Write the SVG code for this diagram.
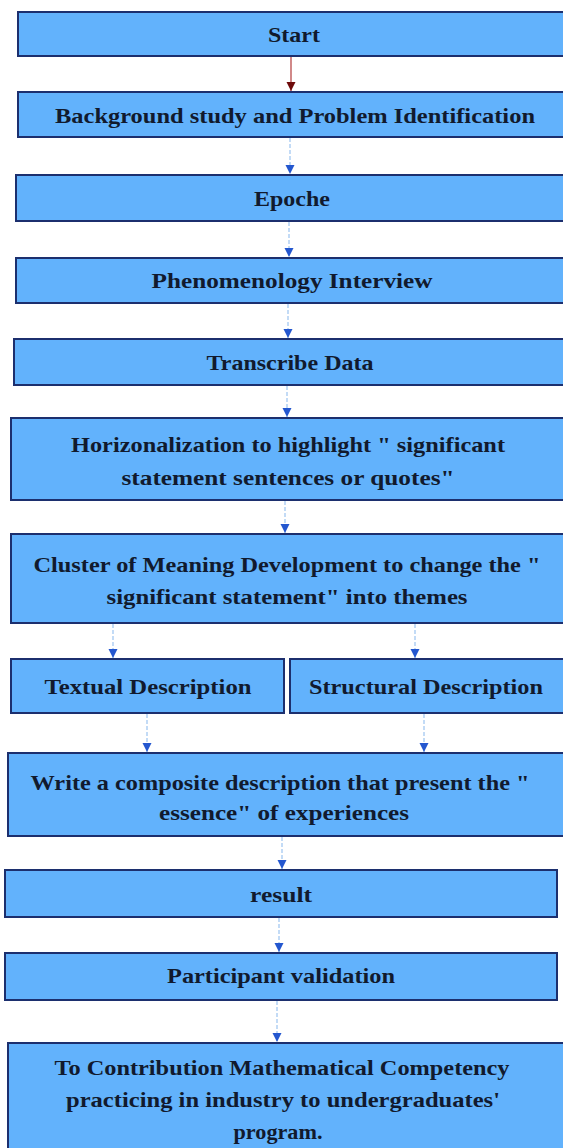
<svg xmlns="http://www.w3.org/2000/svg" width="563" height="1148" viewBox="0 0 563 1148">
  <style>
    .box { fill: #62B2FC; stroke: #1C2F6E; stroke-width: 2; }
    .lbl { font-family: "Liberation Serif", "DejaVu Serif", serif; font-weight: bold; font-size: 21px; fill: #111a2e; text-anchor: middle; }
    .link { stroke: #9CC4F0; stroke-width: 1.2; fill: none; stroke-dasharray: 4 2; }
    .link-red { stroke: #B23A3A; stroke-width: 1.2; fill: none; }
  </style>
  <defs>
    <!-- small filled triangles at the end of each connector -->
    <marker id="head" viewBox="0 0 10 10" refX="10" refY="5" markerWidth="9" markerHeight="10" markerUnits="userSpaceOnUse" orient="auto">
      <path d="M0,0 L10,5 L0,10 Z" fill="#2457CF"/>
    </marker>
    <marker id="head-red" viewBox="0 0 10 10" refX="10" refY="5" markerWidth="9" markerHeight="10" markerUnits="userSpaceOnUse" orient="auto">
      <path d="M0,0 L10,5 L0,10 Z" fill="#6E0A0A"/>
    </marker>
  </defs>

  <!-- connectors -->
  <g id="connectors">
    <line class="link-red" x1="291" y1="57" x2="291" y2="91" marker-end="url(#head-red)"/>
    <line class="link" x1="290" y1="138" x2="290" y2="174" marker-end="url(#head)"/>
    <line class="link" x1="289" y1="222" x2="289" y2="257" marker-end="url(#head)"/>
    <line class="link" x1="288" y1="304" x2="288" y2="338" marker-end="url(#head)"/>
    <line class="link" x1="287" y1="386" x2="287" y2="417" marker-end="url(#head)"/>
    <line class="link" x1="285" y1="501" x2="285" y2="533" marker-end="url(#head)"/>
    <line class="link" x1="113" y1="624" x2="113" y2="658" marker-end="url(#head)"/>
    <line class="link" x1="415" y1="624" x2="415" y2="658" marker-end="url(#head)"/>
    <line class="link" x1="147" y1="714" x2="147" y2="752" marker-end="url(#head)"/>
    <line class="link" x1="424" y1="714" x2="424" y2="752" marker-end="url(#head)"/>
    <line class="link" x1="282" y1="837" x2="282" y2="869" marker-end="url(#head)"/>
    <line class="link" x1="279" y1="918" x2="279" y2="952" marker-end="url(#head)"/>
    <line class="link" x1="277" y1="1001" x2="277" y2="1042" marker-end="url(#head)"/>
  </g>

  <g id="start">
    <rect class="box" x="18" y="12" width="560" height="44"/>
    <text class="lbl" x="294" y="42" textLength="52" lengthAdjust="spacingAndGlyphs">Start</text>
  </g>

  <g id="background">
    <rect class="box" x="18" y="92" width="560" height="45"/>
    <text class="lbl" x="295" y="123" textLength="480" lengthAdjust="spacingAndGlyphs">Background study and Problem Identification</text>
  </g>

  <g id="epoche">
    <rect class="box" x="16" y="175" width="560" height="46"/>
    <text class="lbl" x="292" y="206" textLength="76" lengthAdjust="spacingAndGlyphs">Epoche</text>
  </g>

  <g id="interview">
    <rect class="box" x="16" y="258" width="560" height="45"/>
    <text class="lbl" x="292" y="288" textLength="281" lengthAdjust="spacingAndGlyphs">Phenomenology Interview</text>
  </g>

  <g id="transcribe">
    <rect class="box" x="14" y="339" width="560" height="46"/>
    <text class="lbl" x="290" y="370" textLength="167" lengthAdjust="spacingAndGlyphs">Transcribe Data</text>
  </g>

  <g id="horizonalization">
    <rect class="box" x="11" y="418" width="560" height="82"/>
    <text class="lbl" x="288" y="452" textLength="434" lengthAdjust="spacingAndGlyphs">Horizonalization to highlight " significant</text>
    <text class="lbl" x="288" y="485" textLength="333" lengthAdjust="spacingAndGlyphs">statement sentences or quotes"</text>
  </g>

  <g id="cluster">
    <rect class="box" x="11" y="534" width="560" height="89"/>
    <text class="lbl" x="287" y="572" textLength="507" lengthAdjust="spacingAndGlyphs">Cluster of Meaning Development to change the "</text>
    <text class="lbl" x="287" y="604" textLength="361" lengthAdjust="spacingAndGlyphs">significant statement" into themes</text>
  </g>

  <g id="textual">
    <rect class="box" x="11" y="659" width="273" height="54"/>
    <text class="lbl" x="148" y="694" textLength="207" lengthAdjust="spacingAndGlyphs">Textual Description</text>
  </g>

  <g id="structural">
    <rect class="box" x="290" y="659" width="285" height="54"/>
    <text class="lbl" x="426" y="694" textLength="234" lengthAdjust="spacingAndGlyphs">Structural Description</text>
  </g>

  <g id="composite">
    <rect class="box" x="8" y="753" width="565" height="83"/>
    <text class="lbl" x="280" y="790" textLength="499" lengthAdjust="spacingAndGlyphs">Write a composite description that present the "</text>
    <text class="lbl" x="284" y="820" textLength="250" lengthAdjust="spacingAndGlyphs">essence" of experiences</text>
  </g>

  <g id="result">
    <rect class="box" x="5" y="870" width="552" height="47"/>
    <text class="lbl" x="281" y="902" textLength="62" lengthAdjust="spacingAndGlyphs">result</text>
  </g>

  <g id="validation">
    <rect class="box" x="5" y="953" width="552" height="47"/>
    <text class="lbl" x="281" y="983" textLength="228" lengthAdjust="spacingAndGlyphs">Participant validation</text>
  </g>

  <g id="contribution">
    <rect class="box" x="8" y="1043" width="565" height="115"/>
    <text class="lbl" x="282" y="1075" textLength="455" lengthAdjust="spacingAndGlyphs">To Contribution Mathematical Competency</text>
    <text class="lbl" x="283" y="1107" textLength="434" lengthAdjust="spacingAndGlyphs">practicing in industry to undergraduates'</text>
    <text class="lbl" x="278" y="1139" textLength="89" lengthAdjust="spacingAndGlyphs">program.</text>
  </g>
</svg>
